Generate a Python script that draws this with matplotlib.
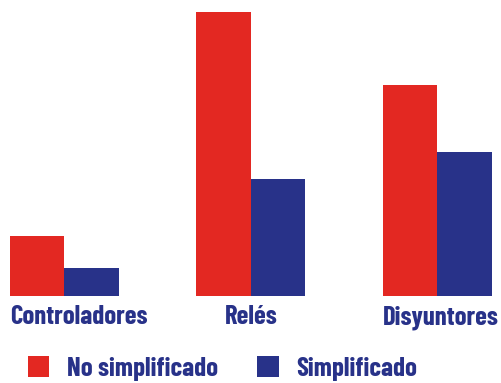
import matplotlib
matplotlib.use("Agg")
import matplotlib.pyplot as plt
from matplotlib.patches import Patch
import numpy as np

categories = ["Controladores", "Relés", "Disyuntores"]
no_simplificado = [60, 284, 211]
simplificado = [28, 117, 144]
series_labels = ["No simplificado", "Simplificado"]

RED = "#E32822"
BLUE = "#283289"
FONT = ["Barlow Condensed", "Liberation Sans Narrow", "DejaVu Sans"]
FS = 19.3

W, H = 502, 383
fig = plt.figure(figsize=(W / 100, H / 100), dpi=100)
base = 296
ax = fig.add_axes([0, 1 - base / H, 1, base / H])
ax.set_ylim(0, base)
spacing = 186.5
c0 = 64.5
ax.set_xlim(-c0 / spacing, (W - c0) / spacing)
bw = 54.5 / spacing
x = np.arange(len(categories))
ax.bar(x - bw / 2, no_simplificado, width=bw, color=RED, linewidth=0)
ax.bar(x + bw / 2, simplificado, width=bw, color=BLUE, linewidth=0)
ax.axis("off")

for i, cat in enumerate(categories):
    if i == 0:
        ax.text(x[i] - bw, -9, cat, ha="left", va="top", fontsize=FS,
                fontweight="bold", color=BLUE, family=FONT)
    else:
        ax.text(x[i] + (0.017 if i == 2 else 0), -9, cat, ha="center", va="top",
                fontsize=FS, fontweight="bold", color=BLUE, family=FONT)

handles = [Patch(facecolor=RED, edgecolor="none"), Patch(facecolor=BLUE, edgecolor="none")]
leg = fig.legend(handles, series_labels, loc="lower left",
                 bbox_to_anchor=(28 / W, 2 / H), borderpad=0, borderaxespad=0,
                 ncol=2, frameon=False, handlelength=0.8, handleheight=0.8,
                 handletextpad=0.64, columnspacing=1.48,
                 prop={"family": FONT, "weight": "bold", "size": FS})
for t in leg.get_texts():
    t.set_color(BLUE)

fig.savefig("out.png", dpi=100)
